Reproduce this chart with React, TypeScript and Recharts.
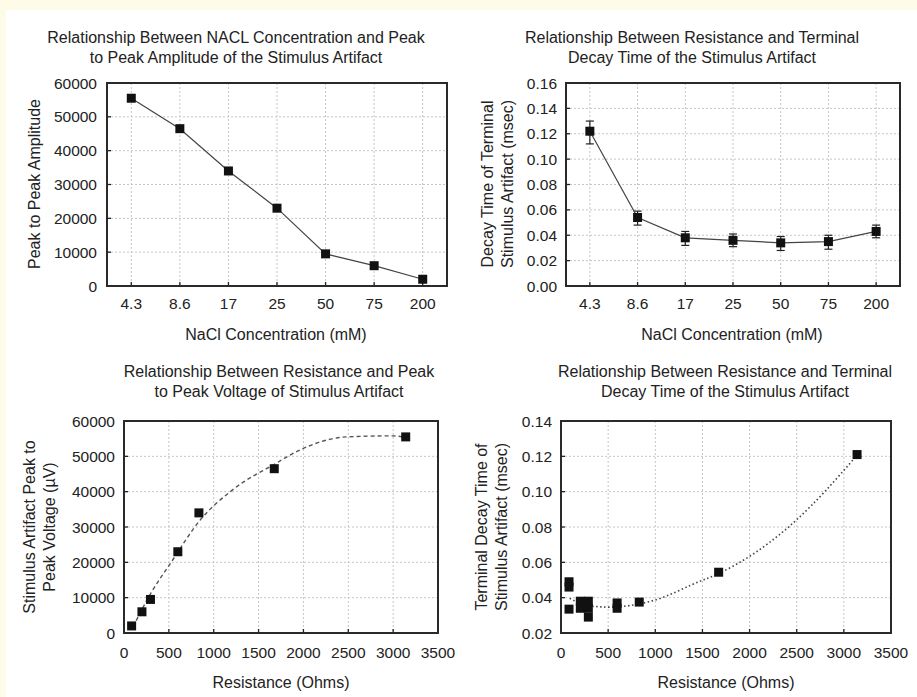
import React from "react";
import {
  CartesianGrid,
  ComposedChart,
  ErrorBar,
  Line,
  Scatter,
  XAxis,
  YAxis,
} from "recharts";

// NaCl concentrations (mM), shared by the two top panels
const concentrations = ["4.3", "8.6", "17", "25", "50", "75", "200"];
const peakAmplitude = [55500, 46500, 34000, 23000, 9500, 6000, 2000];
const decayTime = [0.122, 0.054, 0.038, 0.036, 0.034, 0.035, 0.043];
const decayErrLow = [0.01, 0.006, 0.006, 0.005, 0.006, 0.006, 0.005];
const decayErrHigh = [0.008, 0.005, 0.005, 0.005, 0.005, 0.005, 0.005];

// resistance measured for each concentration (same order)
const resistance = [3140, 1675, 835, 600, 295, 200, 85];

// trend line through the peak voltage points
const voltageFitR = [100, 300, 520, 850, 1210, 1700, 1960, 2480, 3000, 3110];
const voltageFitV = [1700, 11300, 19800, 32000, 40500, 48100, 51800, 55500, 55800, 55500];

// individual decay-time measurements vs resistance
const decayR = [85, 85, 85, 205, 205, 290, 290, 290, 595, 595, 830, 1672, 3140];
const decayV = [0.049, 0.046, 0.0335, 0.038, 0.034, 0.038, 0.034, 0.029, 0.037, 0.034, 0.0375, 0.0544, 0.121];

// trend line through the decay-time points
const decayFitR = [92, 250, 420, 650, 1029, 1382, 1665, 1983, 2266, 2514, 2797, 3130];
const decayFitV = [0.0396, 0.036, 0.0348, 0.035, 0.0392, 0.0472, 0.0535, 0.0628, 0.0735, 0.0848, 0.1, 0.12];

const amplitudeTicks = [0, 10000, 20000, 30000, 40000, 50000, 60000];
const decayTicks = [0, 0.02, 0.04, 0.06, 0.08, 0.1, 0.12, 0.14, 0.16];
const resistanceTicks = [0, 500, 1000, 1500, 2000, 2500, 3000, 3500];
const decayTicks2 = [0.02, 0.04, 0.06, 0.08, 0.1, 0.12, 0.14];

const amplitudeMinor = [7500, 15000, 22500, 30000, 37500, 45000, 52500];
const decayMinor = [0.01, 0.03, 0.05, 0.07, 0.09, 0.11, 0.13, 0.15];
const voltageMinor = Array.from({ length: 25 }, (_, i) => i * 2500);
const resistanceMinor = Array.from({ length: 36 }, (_, i) => i * 100);
const decayMinor2 = [0.03, 0.05, 0.07, 0.09, 0.11, 0.13];

const topData = concentrations.map((c, i) => ({
  conc: c,
  amp: peakAmplitude[i],
  decay: decayTime[i],
  err: [decayErrLow[i], decayErrHigh[i]],
}));
const voltagePoints = resistance.map((r, i) => ({ r, v: peakAmplitude[i] }));
const voltageFit = voltageFitR.map((r, i) => ({ r, v: voltageFitV[i] }));
const decayPoints = decayR.map((r, i) => ({ r, v: decayV[i] }));
const decayFit = decayFitR.map((r, i) => ({ r, v: decayFitV[i] }));

const FONT = '"Liberation Sans", Arial, sans-serif';
const TEXT = "#222";
const AXIS = "#222";
const GRID = "#c6c6c6";
const tickStyle = { fill: TEXT, fontSize: 15.5, fontFamily: FONT };
const frameLine = { stroke: AXIS, strokeWidth: 1.5 };
const tickMark = { stroke: AXIS, strokeWidth: 1.3 };

const squareDot = (size: number) => (p: any) =>
  (
    <rect
      key={`sq-${p.index}`}
      x={p.cx - size / 2}
      y={p.cy - size / 2}
      width={size}
      height={size}
      fill="#111"
    />
  );

const squareShape = (p: any) => (
  <rect x={p.cx - 4.5} y={p.cy - 4.5} width={9} height={9} fill="#111" />
);

function Caption({ x, y, lines, rotate }: { x: number; y: number; lines: string[]; rotate?: boolean }) {
  return (
    <div
      style={{
        position: "absolute",
        left: x,
        top: y,
        transform: `translate(-50%, -50%)${rotate ? " rotate(-90deg)" : ""}`,
        textAlign: "center",
        fontSize: 16,
        lineHeight: "20px",
        whiteSpace: "nowrap",
        color: TEXT,
      }}
    >
      {lines.map((l) => (
        <div key={l}>{l}</div>
      ))}
    </div>
  );
}

// border round a plot area (the chart margins put the plot at these edges)
function Frame({ l, t, r, b }: { l: number; t: number; r: number; b: number }) {
  return (
    <div
      style={{
        position: "absolute",
        left: l - 1,
        top: t - 1,
        width: r - l + 2,
        height: b - t + 2,
        boxSizing: "border-box",
        border: "2px solid #2a2a2a",
        pointerEvents: "none",
      }}
    />
  );
}

function Box({ left, top, children }: { left: number; top: number; children: React.ReactNode }) {
  return <div style={{ position: "absolute", left, top }}>{children}</div>;
}

export default function App() {
  return (
    <div
      style={{
        position: "absolute",
        left: 0,
        top: 0,
        width: 917,
        height: 697,
        background: "#fffbe9",
        fontFamily: FONT,
        overflow: "hidden",
      }}
    >
      <div style={{ position: "absolute", left: 6, top: 10, right: 0, bottom: 0, background: "#fff" }} />

      {/* top left: amplitude vs concentration */}
      <Box left={0} top={0}>
        <ComposedChart width={460} height={345} data={topData} margin={{ top: 82, right: 12, bottom: 19, left: 47 }}>
          <CartesianGrid xAxisId="b" yAxisId="l" stroke={GRID} strokeDasharray="2 2" />
          <XAxis xAxisId="b" dataKey="conc" type="category" scale="band" height={40} stroke={AXIS}
            axisLine={frameLine} tickLine={tickMark}
            tickSize={-4} tickMargin={16} tick={tickStyle} interval={0} />
          <XAxis xAxisId="t" dataKey="conc" type="category" scale="band" orientation="top" height={1}
            stroke={AXIS} axisLine={frameLine} tickLine={tickMark} tickSize={-4} tick={false} interval={0} />
          <YAxis yAxisId="l" type="number" width={60} domain={[0, 60000]} ticks={amplitudeTicks}
            axisLine={frameLine} tickLine={tickMark}
            stroke={AXIS} tickSize={-4} tickMargin={14} tick={tickStyle} interval={0} />
          <YAxis yAxisId="r" type="number" orientation="right" width={1} domain={[0, 60000]}
            axisLine={frameLine} tickLine={tickMark}
            ticks={amplitudeMinor} stroke={AXIS} tickSize={-4} tick={false} interval={0} allowDataOverflow />
          <Line xAxisId="b" yAxisId="l" dataKey="amp" stroke="#444" strokeWidth={1.2}
            dot={squareDot(9)} activeDot={false} isAnimationActive={false} />
        </ComposedChart>
      </Box>

      {/* top right: decay time vs concentration */}
      <Box left={458} top={0}>
        <ComposedChart width={459} height={345} data={topData} margin={{ top: 82, right: 16, bottom: 19, left: 48 }}>
          <CartesianGrid xAxisId="b" yAxisId="l" stroke={GRID} strokeDasharray="2 2" />
          <XAxis xAxisId="b" dataKey="conc" type="category" scale="band" height={40} stroke={AXIS}
            axisLine={frameLine} tickLine={tickMark}
            tickSize={-4} tickMargin={16} tick={tickStyle} interval={0} />
          <XAxis xAxisId="t" dataKey="conc" type="category" scale="band" orientation="top" height={1}
            stroke={AXIS} axisLine={frameLine} tickLine={tickMark} tickSize={-4} tick={false} interval={0} />
          <YAxis yAxisId="l" type="number" width={60} domain={[0, 0.16]} ticks={decayTicks}
            tickFormatter={(v: number) => v.toFixed(2)} axisLine={frameLine} tickLine={tickMark}
            stroke={AXIS} tickSize={-4} tickMargin={13} tick={tickStyle} interval={0} />
          <YAxis yAxisId="r" type="number" orientation="right" width={1} domain={[0, 0.16]}
            axisLine={frameLine} tickLine={tickMark}
            ticks={decayMinor} stroke={AXIS} tickSize={-4} tick={false} interval={0} allowDataOverflow />
          <Line xAxisId="b" yAxisId="l" dataKey="decay" stroke="#444" strokeWidth={1.2}
            dot={squareDot(9)} activeDot={false} isAnimationActive={false}>
            <ErrorBar dataKey="err" width={4} stroke="#222" strokeWidth={1.2} direction="y" />
          </Line>
        </ComposedChart>
      </Box>

      {/* bottom left: peak voltage vs resistance */}
      <Box left={0} top={345}>
        <ComposedChart width={460} height={352} data={voltageFit} margin={{ top: 75, right: 21, bottom: 24, left: 64 }}>
          <CartesianGrid xAxisId="b" yAxisId="l" stroke={GRID} strokeDasharray="2 2" />
          <XAxis xAxisId="b" dataKey="r" type="number" domain={[0, 3500]} ticks={resistanceTicks}
            axisLine={frameLine} tickLine={tickMark}
            height={40} stroke={AXIS} tickSize={-4} tickMargin={18} tick={tickStyle} interval={0} />
          <XAxis xAxisId="t" dataKey="r" type="number" orientation="top" domain={[0, 3500]}
            axisLine={frameLine} tickLine={tickMark}
            ticks={resistanceMinor} height={1} stroke={AXIS} tickSize={-4} tick={false} interval={0} allowDataOverflow />
          <YAxis yAxisId="l" type="number" width={60} domain={[0, 60000]} ticks={amplitudeTicks}
            axisLine={frameLine} tickLine={tickMark}
            stroke={AXIS} tickSize={-4} tickMargin={13} tick={tickStyle} interval={0} />
          <YAxis yAxisId="r" type="number" orientation="right" width={1} domain={[0, 60000]}
            axisLine={frameLine} tickLine={tickMark}
            ticks={voltageMinor} stroke={AXIS} tickSize={-4} tick={false} interval={0} allowDataOverflow />
          <Line xAxisId="b" yAxisId="l" dataKey="v" type="monotone" stroke="#555" strokeWidth={1.4}
            strokeDasharray="4 3" dot={false} activeDot={false} isAnimationActive={false} />
          <Scatter xAxisId="b" yAxisId="l" data={voltagePoints} dataKey="v" shape={squareShape}
            isAnimationActive={false} />
        </ComposedChart>
      </Box>

      {/* bottom right: decay time vs resistance */}
      <Box left={458} top={345}>
        <ComposedChart width={459} height={352} data={decayFit} margin={{ top: 75, right: 25, bottom: 24, left: 43 }}>
          <CartesianGrid xAxisId="b" yAxisId="l" stroke={GRID} strokeDasharray="2 2" />
          <XAxis xAxisId="b" dataKey="r" type="number" domain={[0, 3500]} ticks={resistanceTicks}
            axisLine={frameLine} tickLine={tickMark}
            height={40} stroke={AXIS} tickSize={-4} tickMargin={18} tick={tickStyle} interval={0} />
          <XAxis xAxisId="t" dataKey="r" type="number" orientation="top" domain={[0, 3500]}
            axisLine={frameLine} tickLine={tickMark}
            ticks={resistanceMinor} height={1} stroke={AXIS} tickSize={-4} tick={false} interval={0} allowDataOverflow />
          <YAxis yAxisId="l" type="number" width={60} domain={[0.02, 0.14]} ticks={decayTicks2}
            tickFormatter={(v: number) => v.toFixed(2)} axisLine={frameLine} tickLine={tickMark}
            stroke={AXIS} tickSize={-4} tickMargin={13} tick={tickStyle} interval={0} />
          <YAxis yAxisId="r" type="number" orientation="right" width={1} domain={[0.02, 0.14]}
            axisLine={frameLine} tickLine={tickMark}
            ticks={decayMinor2} stroke={AXIS} tickSize={-4} tick={false} interval={0} allowDataOverflow />
          <Line xAxisId="b" yAxisId="l" dataKey="v" type="natural" stroke="#444" strokeWidth={1.6}
            strokeDasharray="1.5 2.5" dot={false} activeDot={false} isAnimationActive={false} />
          <Scatter xAxisId="b" yAxisId="l" data={decayPoints} dataKey="v" shape={squareShape}
            isAnimationActive={false} />
        </ComposedChart>
      </Box>

      <Frame l={107} t={83} r={447} b={286} />
      <Frame l={566} t={83} r={900} b={286} />
      <Frame l={124} t={421} r={438} b={633} />
      <Frame l={561} t={421} r={891} b={633} />

      <Caption x={236} y={48} lines={["Relationship Between NACL Concentration and Peak", "to Peak Amplitude of the Stimulus Artifact"]} />
      <Caption x={692} y={48} lines={["Relationship Between Resistance and Terminal", "Decay Time of the Stimulus Artifact"]} />
      <Caption x={279} y={382} lines={["Relationship Between Resistance and Peak", "to Peak Voltage of Stimulus Artifact"]} />
      <Caption x={725} y={382} lines={["Relationship Between Resistance and Terminal", "Decay Time of the Stimulus Artifact"]} />

      <Caption x={35} y={184} rotate lines={["Peak to Peak Amplitude"]} />
      <Caption x={498} y={184} rotate lines={["Decay Time of Terminal", "Stimulus Artifact (msec)"]} />
      <Caption x={40} y={527} rotate lines={["Stimulus Artifact Peak to", "Peak Voltage (\u00b5V)"]} />
      <Caption x={492} y={527} rotate lines={["Terminal Decay Time of", "Stimulus Artifact (msec)"]} />

      <Caption x={276} y={335} lines={["NaCl Concentration (mM)"]} />
      <Caption x={732} y={335} lines={["NaCl Concentration (mM)"]} />
      <Caption x={281} y={683} lines={["Resistance (Ohms)"]} />
      <Caption x={726} y={683} lines={["Resistance (Ohms)"]} />
    </div>
  );
}
